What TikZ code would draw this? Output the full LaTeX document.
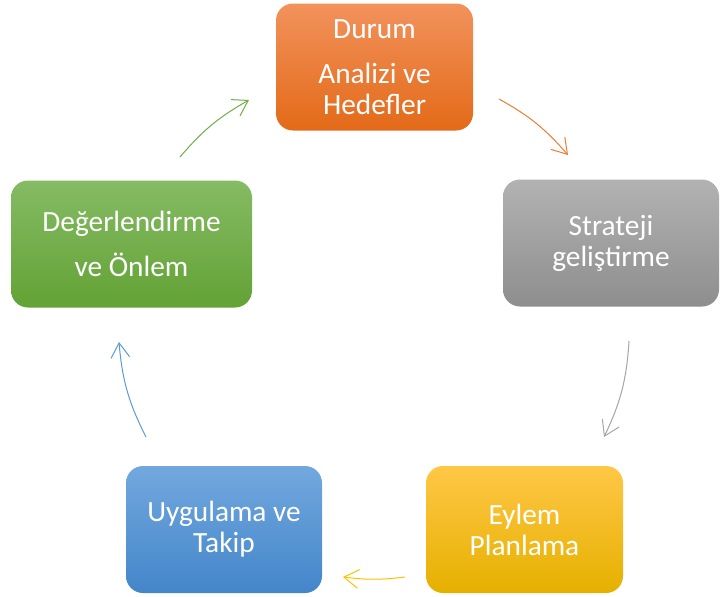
\documentclass[tikz,border=0pt]{standalone}
\usepackage{fontspec}
\setmainfont{Carlito}
\usetikzlibrary{arrows.meta}

\definecolor{orTop}{HTML}{F2925C}
\definecolor{orBot}{HTML}{E36A18}
\definecolor{grTop}{HTML}{B2B2B2}
\definecolor{grBot}{HTML}{8E8E8E}
\definecolor{yeTop}{HTML}{FFC746}
\definecolor{yeBot}{HTML}{E6B000}
\definecolor{blTop}{HTML}{72A8DE}
\definecolor{blBot}{HTML}{4486CA}
\definecolor{gnTop}{HTML}{85BB64}
\definecolor{gnBot}{HTML}{63A235}
\definecolor{orLine}{HTML}{ED7D31}
\definecolor{grLine}{HTML}{A5A5A5}
\definecolor{yeLine}{HTML}{FFC000}
\definecolor{blLine}{HTML}{5B9BD5}
\definecolor{gnLine}{HTML}{70AD47}

\begin{document}
\begin{tikzpicture}[x=0.75pt,y=-0.75pt,
  box/.style={shading=axis,rounded corners=12.75pt,minimum height=95.25pt,inner sep=0pt,
    align=center,text=white,font=\fontsize{22}{23.25}\selectfont},
  flow/.style={-{Straight Barb[length=11pt,width=14pt]},line width=0.75pt}]
  \useasboundingbox (0,0) rectangle (720,596);
  \path (374.5,67) node[box,minimum width=147.75pt,top color=orTop,bottom color=orBot] (durum) {Durum\\[10.5pt]Analizi ve\\Hedefler}
  (611,243) node[box,minimum width=162pt,top color=grTop,bottom color=grBot] (strateji) {Strateji\\geliştirme}
  (524.5,529.5) node[box,minimum width=147.75pt,top color=yeTop,bottom color=yeBot] (eylem) {Eylem\\Planlama}
  (224,529.5) node[box,minimum width=147pt,top color=blTop,bottom color=blBot] (uygulama) {Uygulama ve\\Takip}
  (131.5,244) node[box,minimum width=180.75pt,top color=gnTop,bottom color=gnBot] (degerlendirme) {Değerlendirme\\[10.5pt]ve Önlem};
  \coordinate (o1) at (499,99); \coordinate (o2) at (568,155);
  \coordinate (s1) at (629,341); \coordinate (s2) at (604,437);
  \coordinate (e1) at (405,577); \coordinate (e2) at (343,577);
  \coordinate (u1) at (146,437); \coordinate (u2) at (119,342);
  \coordinate (d1) at (180,157); \coordinate (d2) at (249,100);
  \draw[flow,orLine] (o1) to[bend left=10] (o2);
  \draw[flow,grLine] (s1) to[bend left=11] (s2);
  \draw[flow,yeLine] (e1) to[bend left=7] (e2);
  \draw[flow,blLine] (u1) to[bend left=11] (u2);
  \draw[flow,gnLine] (d1) to[bend left=10] (d2);
\end{tikzpicture}
\end{document}
